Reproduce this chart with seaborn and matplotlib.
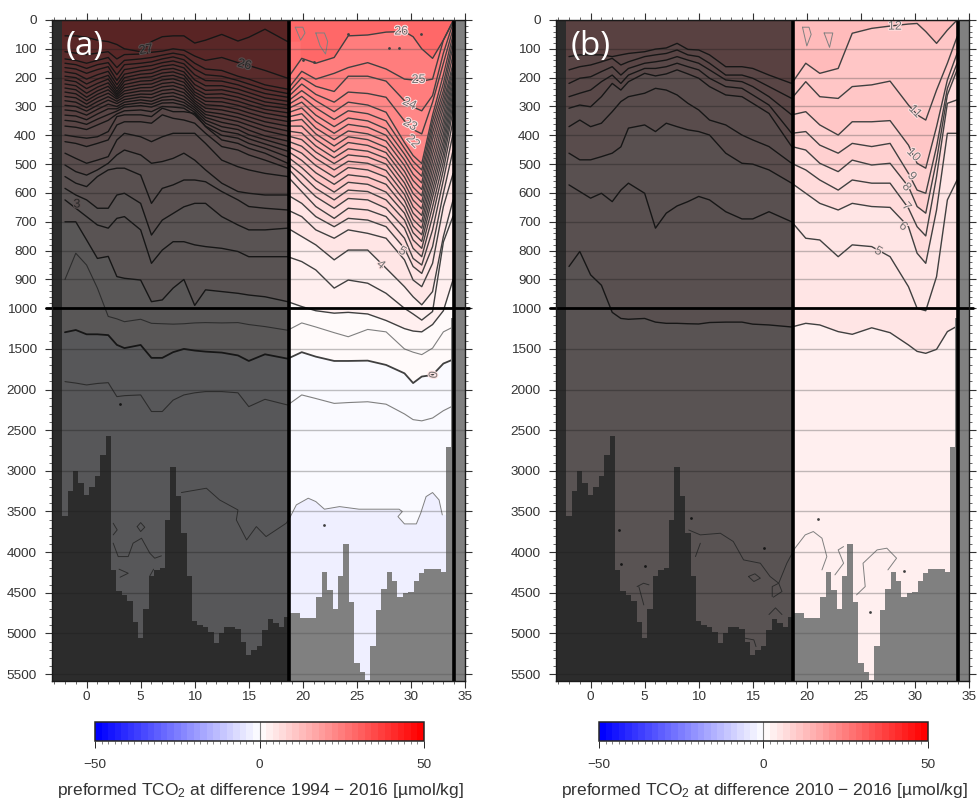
import numpy as np
import seaborn as sns
import matplotlib.pyplot as plt
import matplotlib.patheffects as pe
from matplotlib.colors import Normalize
from matplotlib.cm import ScalarMappable
from matplotlib.ticker import FixedLocator, NullFormatter

sns.set_theme(style="ticks")
plt.rcParams["font.family"] = ["Liberation Sans", "DejaVu Sans"]
plt.rcParams["mathtext.default"] = "regular"

# seccion: estaciones y batimetria
x_left = [-2, -1, 0, 1, 2, 2.8, 3.5, 5, 6, 7, 8, 9, 10, 11, 12.5, 14, 15, 16.5, 18.6]
x_right = [19.9, 21.2, 22.9, 24.2, 26, 27.7, 29.4, 30.2, 31, 32, 33, 33.9]
x_full = x_left + x_right

bathy = [3560, 3250, 3000, 3150, 3300, 3200, 3060, 2810, 2570, 4220, 4480, 4530, 4600, 4860, 5060,
         4700, 4290, 4220, 4190, 3600, 2950, 3310, 3760, 4290, 4850, 4900, 4920, 4980, 5120, 4990,
         4920, 4920, 4950, 5100, 5260, 5210, 5150, 4960, 4820, 4870, 4920, 4800, 4750, 4750, 4810,
         4810, 4810, 4550, 4240, 4470, 4700, 4300, 3900, 4610, 5370, 5470, 5570, 5160, 4710, 4460,
         4240, 4360, 4550, 4500, 4490, 4360, 4260, 4210, 4210, 4210, 4250, 2710, 1120]

# panel (a): profundidad de cada isolinea
a_27 = [55, 55, 60, 70, 75, 85, 100, 110, 75, 58, 55, 55, 80, 70, 50, 73, 60, 32, 75]
a_26 = [110, 115, 120, 115, 110, 135, 120, 118, 112, 108, 100, 105, 125, 140, 130, 148, 158, 175, 202,
        133, 150, 130, 55, 52, 42, 40, 58, 100, 133, 70, 5]
a_25 = [135, 140, 150, 140, 130, 165, 140, 135, 130, 122, 115, 122, 150, 170, 175, 195, 205, 225, 240,
        178, 205, 185, 165, 148, 170, 205, 208, 212, 205, 70, 2]
a_24 = [150, 155, 168, 155, 148, 190, 155, 150, 145, 135, 128, 138, 170, 190, 195, 210, 222, 240, 255,
        200, 230, 248, 195, 195, 212, 280, 302, 315, 262, 115, 10]
a_23 = [165, 170, 185, 172, 162, 210, 172, 163, 158, 148, 142, 152, 190, 210, 212, 225, 238, 255, 268,
        222, 258, 285, 250, 255, 268, 350, 380, 395, 285, 150, 30]
a_22 = [180, 186, 205, 190, 178, 225, 188, 176, 172, 160, 155, 166, 208, 228, 228, 240, 252, 270, 282,
        245, 280, 318, 285, 295, 320, 425, 470, 498, 330, 190, 50]
a_21 = [195, 200, 222, 205, 192, 238, 200, 188, 185, 172, 168, 180, 224, 244, 242, 254, 266, 284, 295,
        265, 305, 345, 315, 325, 350, 445, 490, 520, 350, 220, 70]
a_20 = [208, 214, 238, 220, 205, 248, 212, 200, 197, 184, 180, 192, 238, 258, 256, 268, 280, 297, 308,
        285, 330, 370, 340, 350, 378, 465, 512, 542, 370, 245, 90]
a_19 = [222, 228, 254, 233, 218, 256, 224, 212, 210, 196, 192, 204, 250, 270, 270, 282, 294, 310, 322,
        305, 352, 393, 362, 372, 400, 485, 535, 565, 392, 265, 120]
a_18 = [236, 242, 268, 246, 230, 262, 235, 224, 222, 208, 204, 216, 260, 282, 284, 296, 308, 323, 337,
        325, 375, 415, 385, 395, 420, 505, 557, 588, 415, 285, 150]
a_17 = [250, 256, 280, 258, 242, 268, 246, 235, 234, 220, 216, 228, 270, 294, 298, 310, 322, 338, 352,
        345, 395, 437, 405, 415, 442, 525, 580, 610, 440, 305, 165]
a_16 = [265, 270, 292, 270, 254, 274, 256, 246, 246, 232, 228, 240, 280, 306, 312, 324, 336, 353, 368,
        368, 415, 458, 425, 435, 460, 545, 602, 632, 465, 328, 180]
a_15 = [280, 285, 304, 283, 266, 282, 266, 257, 258, 244, 240, 252, 288, 318, 326, 338, 350, 368, 385,
        392, 437, 478, 447, 455, 480, 565, 625, 655, 490, 350, 198]
a_14 = [296, 300, 316, 296, 278, 290, 276, 267, 270, 256, 252, 264, 296, 328, 340, 352, 365, 384, 402,
        415, 458, 498, 468, 475, 500, 585, 648, 678, 515, 372, 215]
a_13 = [312, 316, 330, 310, 292, 300, 285, 277, 282, 268, 264, 276, 304, 338, 355, 366, 382, 402, 420,
        438, 480, 520, 490, 497, 522, 605, 670, 700, 540, 395, 232]
a_12 = [330, 333, 346, 326, 308, 308, 294, 287, 292, 278, 276, 286, 312, 348, 370, 380, 398, 415, 438,
        462, 505, 545, 512, 520, 545, 626, 692, 722, 565, 418, 250]
a_11 = [348, 352, 362, 344, 328, 316, 302, 297, 302, 288, 287, 296, 320, 358, 385, 395, 412, 430, 455,
        487, 530, 570, 537, 545, 570, 648, 715, 745, 590, 440, 270]
a_10 = [368, 372, 380, 364, 348, 326, 315, 312, 318, 300, 302, 306, 330, 368, 400, 410, 428, 445, 475,
        512, 557, 597, 563, 570, 597, 670, 738, 768, 615, 465, 290]
a_9 = [399, 405, 410, 405, 387, 335, 329, 329, 335, 306, 318, 318, 324, 370, 416, 428, 445, 462, 497,
       537, 584, 624, 590, 595, 624, 694, 763, 792, 647, 491, 312]
a_8 = [422, 428, 439, 428, 416, 364, 353, 353, 358, 329, 341, 347, 358, 393, 439, 451, 468, 486, 514,
       566, 613, 653, 619, 624, 653, 722, 792, 821, 682, 520, 347]
a_7 = [462, 480, 497, 486, 474, 416, 393, 405, 422, 405, 393, 393, 393, 428, 486, 509, 520, 532, 543,
       595, 647, 688, 653, 659, 682, 757, 827, 850, 728, 555, 393]
a_6 = [503, 526, 538, 520, 497, 468, 451, 468, 497, 491, 480, 462, 486, 520, 566, 595, 601, 607, 607,
       636, 682, 717, 688, 694, 717, 792, 855, 879, 786, 601, 451]
a_5 = [543, 566, 578, 543, 520, 514, 514, 538, 636, 584, 572, 555, 555, 561, 595, 624, 647, 653, 659,
       682, 728, 757, 728, 740, 757, 832, 902, 925, 844, 647, 532]
a_4 = [584, 607, 624, 653, 653, 607, 601, 636, 746, 694, 671, 648, 636, 636, 682, 711, 728, 728, 722,
       751, 780, 832, 798, 798, 861, 925, 960, 988, 942, 751, 624]
a_3 = [624, 653, 682, 711, 722, 688, 682, 728, 844, 798, 769, 769, 780, 786, 792, 803, 821, 821, 821,
       838, 867, 930, 902, 913, 948, 1000, 1070, 1145, 1040, 770, 680]
a_2 = [700, 700, 763, 827, 820, 890, 896, 902, 977, 971, 930, 900, 990, 936, 942, 948, 954, 960, 977,
       994, 1030, 1060, 1050, 1070, 1150, 1250, 1280, 1290, 1200, 1030, 900]
a_1 = [900, 809, 850, 930, 1100, 1130, 1165, 1135, 1185, 1190, 1195, 1190, 1180, 1176, 1180, 1176, 1200, 1225, 1270,
       1180, 1230, 1300, 1350, 1260, 1290, 1500, 1540, 1570, 1490, 1290, 1230]
a_0 = [1295, 1267, 1320, 1320, 1330, 1450, 1490, 1451, 1610, 1610, 1540, 1500, 1520, 1533, 1545, 1580, 1648, 1566, 1620,
       1540, 1595, 1648, 1648, 1644, 1697, 1800, 1920, 1840, 1820, 1680, 1630]
a_m1 = [1902, 1920, 1943, 1925, 1915, 2087, 2075, 2066, 2270, 2270, 2130, 2066, 2040, 2025, 2025, 2040, 2210, 2120, 2190,
        2066, 2110, 2170, 2160, 2150, 2180, 2300, 2370, 2385, 2350, 2260, 2200]

# tramos de la isolinea -2 en (a)
a_m2_x = [8.77, 11.08, 12.3, 14, 13.85, 14.8, 15.7, 16.6, 18.46, 18.77, 19.4, 20.5, 21.2, 22, 23.4, 25.2,
          28.9, 29.2, 28.8, 29.4, 30.5, 30.9, 31.4, 32, 32.6, 32.9]
a_m2_d = [3267, 3214, 3358, 3481, 3604, 3850, 3686, 3809, 3645, 3583, 3419, 3337, 3378, 3472, 3440, 3472,
          3472, 3501, 3563, 3653, 3653, 3522, 3317, 3267, 3358, 3542]
a_small = [([2.46, 2.83, 2.46], [3645, 3727, 3788]),
           ([4.68, 5.0, 5.38, 5.0, 4.68], [3686, 3637, 3694, 3747, 3686]),
           ([2.46, 2.92, 3.85, 4.3, 5.08, 5.85, 6.3, 6.92], [3890, 4055, 4055, 3890, 3829, 4014, 4075, 4046]),
           ([3, 3.85, 3.1], [4210, 4260, 4309]),
           ([5.85, 6.2], [4293, 4210]),
           ([19.3, 20.0, 20.2, 19.8, 19.3], [25, 25, 45, 70, 25]),
           ([21.2, 22.0, 22.3, 22.1, 21.6, 21.2], [45, 45, 75, 118, 90, 45])]
a_dots_x = [3.1, 22.0, 20.0, 21.0, 28.0, 28.9, 24.2, 30.9]
a_dots_d = [2175, 3670, 140, 145, 98, 98, 50, 50]

# panel (b)
b_12 = [127, 121, 121, 121, 127, 121, 116, 110, 101, 97, 81, 102, 104, 121, 162, 162, 168, 191, 220,
        150, 185, 168, 46, 29, 21, 14, 12, 40, 81, 35, 0]
b_11 = [173, 162, 156, 145, 133, 156, 145, 127, 121, 116, 104, 121, 127, 150, 191, 191, 202, 231, 272,
        214, 266, 272, 231, 225, 212, 295, 329, 347, 243, 150, 58]
b_10 = [220, 202, 197, 179, 162, 191, 168, 150, 145, 139, 127, 139, 150, 173, 208, 214, 231, 266, 329,
        318, 364, 399, 353, 353, 349, 434, 497, 514, 370, 208, 116]
b_9 = [266, 254, 243, 214, 191, 220, 191, 168, 168, 162, 150, 162, 173, 202, 231, 237, 260, 295, 393,
       387, 434, 462, 428, 439, 428, 532, 590, 601, 439, 237, 150]
b_8 = [306, 295, 301, 266, 220, 243, 214, 185, 194, 187, 173, 187, 202, 231, 260, 266, 289, 324, 439,
       451, 497, 526, 486, 503, 497, 578, 647, 670, 486, 260, 173]
b_7 = [370, 347, 370, 358, 318, 283, 266, 254, 237, 243, 260, 289, 312, 347, 364, 399, 416, 439, 497,
       520, 555, 590, 555, 566, 566, 653, 717, 749, 543, 289, 277]
b_6 = [462, 485, 485, 474, 462, 440, 375, 364, 387, 358, 370, 381, 387, 399, 462, 497, 500, 520, 566,
       601, 636, 659, 636, 647, 650, 717, 809, 844, 659, 393, 393]
b_5 = [572, 595, 618, 601, 630, 590, 566, 601, 722, 670, 645, 630, 612, 624, 665, 690, 690, 665, 700,
       757, 763, 821, 780, 786, 821, 925, 1000, 1030, 890, 624, 555]
b_4 = [855, 803, 884, 920, 1050, 1125, 1135, 1125, 1170, 1185, 1185, 1190, 1193, 1175, 1170, 1170, 1195, 1205, 1230,
       1185, 1205, 1287, 1320, 1240, 1300, 1451, 1530, 1554, 1505, 1287, 1220]

b_small = [([9.08, 10.15, 12, 13.2, 14.15, 15.7, 16.6, 17.4, 18.15, 18.9, 19.85, 20.6, 21.4, 21.85, 21.4],
            [3728, 3788, 3768, 3870, 4096, 4137, 4300, 4383, 4137, 3952, 3788, 3747, 3829, 4055, 4219]),
           ([22.6, 23.4, 22.9, 23.4], [4280, 4137, 3973, 3932]),
           ([24.6, 25.4, 25.2, 26.5, 27.4, 28.3, 27.5], [4526, 4424, 4137, 3973, 3952, 4075, 4219]),
           ([14.6, 15.2, 15.7, 15.1, 14.6], [4300, 4267, 4321, 4362, 4300]),
           ([16.8, 16.8, 17.4, 17.7, 16.9], [4547, 4424, 4383, 4485, 4555]),
           ([16.5, 17.1, 17.7], [4768, 4686, 4768]),
           ([4.3, 4.9, 5.4], [4424, 4383, 4403]),
           ([4.46, 4.92], [4424, 4650]),
           ([9.7, 10.15], [4055, 3891]),
           ([14.3, 15.1, 15.3], [5060, 5080, 5163]),
           ([19.6, 20.2, 20.4, 20.0, 19.6], [25, 25, 50, 90, 25]),
           ([21.6, 22.4, 22.1, 21.6], [45, 45, 95, 45])]
b_dots_x = [21.0, 16.0, 5.0, 25.8, 29.0, 9.3, 2.6, 2.8]
b_dots_d = [3590, 3950, 4170, 4740, 4230, 3580, 3730, 4150]

# contornos con el valor de la banda que queda debajo
a_contours = [(27, a_27, 26.5), (26, a_26, 25.5), (25, a_25, 24.5), (24, a_24, 23.5), (23, a_23, 22.5),
              (22, a_22, 21.5), (21, a_21, 20.5), (20, a_20, 19.5), (19, a_19, 18.5), (18, a_18, 17.5),
              (17, a_17, 16.5), (16, a_16, 15.5), (15, a_15, 14.5), (14, a_14, 13.5), (13, a_13, 12.5),
              (12, a_12, 11.5), (11, a_11, 10.5), (10, a_10, 9.5), (9, a_9, 8.5), (8, a_8, 7.5),
              (7, a_7, 6.5), (6, a_6, 5.5), (5, a_5, 4.5), (4, a_4, 3.5), (3, a_3, 2.5),
              (2, a_2, 1.5), (1, a_1, 0.5), (0, a_0, -0.5), (-1, a_m1, -1.5)]
b_contours = [(12, b_12, 11.5), (11, b_11, 10.5), (10, b_10, 9.5), (9, b_9, 8.5), (8, b_8, 7.5),
              (7, b_7, 6.5), (6, b_6, 5.5), (5, b_5, 5), (4, b_4, 3)]

a_labels = [("27", 5.5, 104, 10), ("26", 14.6, 156, -15), ("3", -0.9, 640, 0), ("26", 29.1, 40, 0),
            ("25", 30.7, 208, 0), ("24", 29.85, 291, -25), ("23", 29.9, 364, -30), ("22", 30.15, 422, -45),
            ("5", 29.2, 803, -30), ("4", 27.2, 850, -40), ("0", 32.15, 1820, 80)]
b_labels = [("12", 28.15, 23, 0), ("11", 30, 318, -45), ("10", 29.85, 468, -45), ("9", 29.7, 543, -50),
            ("8", 29.2, 580, -50), ("7", 29.2, 648, -50), ("6", 28.9, 717, -40), ("5", 26.6, 803, -30)]

y_major = list(range(0, 1000, 100)) + list(range(1000, 6000, 500))
y_minor = list(range(0, 1000, 20)) + list(range(1000, 5600, 100))
x_major = list(range(0, 40, 5))
x_minor = list(range(-3, 36))

X_MIN, X_MAX, Y_MAX = -3.2, 35, 5586
cmap = sns.color_palette("bwr", as_cmap=True).resampled(50)
norm = Normalize(-50, 50)


def fwd(y):
    y = np.asarray(y, dtype=float)
    return np.where(y <= 1000, y, 1000 + (y - 1000) * 0.2819)


def inv(y):
    y = np.asarray(y, dtype=float)
    return np.where(y <= 1000, y, 1000 + (y - 1000) / 0.2819)


def px_rect(left, top, right, bottom):
    return [left / 978, 1 - bottom / 802, (right - left) / 978, (bottom - top) / 802]


def draw_line(ax, xs, ds, color="0.25", lw=1.0):
    sns.lineplot(x=xs, y=ds, sort=False, estimator=None, errorbar=None, color=color,
                 linewidth=lw, legend=False, ax=ax, zorder=3)


def draw_panel(ax, contours, small, dots_x, dots_d, labels, top_value, extra_fill=None):
    ax.set_yscale("function", functions=(fwd, inv))
    ax.axvspan(X_MIN, X_MAX, color=cmap(norm(top_value)), lw=0, zorder=0)

    # primero las bandas de color, de arriba abajo
    for level, depth, band in contours:
        xs = x_left if len(depth) == len(x_left) else x_full
        poly_x = [xs[0] - 1] + xs + [xs[-1] + 1.2, xs[-1] + 1.2, xs[0] - 1]
        poly_y = [depth[0]] + depth + [depth[-1], Y_MAX, Y_MAX]
        ax.fill(poly_x, poly_y, color=cmap(norm(band)), lw=0, zorder=1)
    if extra_fill is not None:
        fx, fd, band = extra_fill
        ax.fill(fx + [36, 36, fx[0]], fd + [fd[-1], Y_MAX, Y_MAX], color=cmap(norm(band)), lw=0, zorder=1)

    for level, depth, band in contours:
        xs = x_left if len(depth) == len(x_left) else x_full
        if level == 0:
            draw_line(ax, xs, depth, "0.25", 1.3)
        elif level in (1, -1):
            draw_line(ax, xs, depth, "0.5", 0.8)
        else:
            draw_line(ax, xs, depth, "0.25", 1.0)
    for sx, sd in small:
        draw_line(ax, sx, sd, "0.5", 0.7)
    sns.scatterplot(x=dots_x, y=dots_d, color="0.25", s=4, linewidth=0, legend=False, ax=ax, zorder=3)

    for txt, tx, ty, rot in labels:
        ax.text(tx, ty, txt, fontsize=9, color="0.45", rotation=rot, ha="center", va="center", zorder=4,
                path_effects=[pe.withStroke(linewidth=1.5, foreground=(1, 0.88, 0.88))])

    # batimetria
    edges = -2.25 + 0.5 * np.arange(len(bathy) + 1)
    ax.fill_between(edges, bathy + [bathy[-1]], Y_MAX, step="post", color="0.5", lw=0, zorder=5)
    ax.axvspan(X_MIN, -2.25, color="0.5", lw=0, zorder=5)
    ax.axvspan(34, X_MAX, color="0.5", lw=0, zorder=5)

    # lineas horizontales de rejilla y sombra de la parte izquierda
    for d in y_major:
        ax.axhline(d, color="0.3", alpha=0.35, lw=1, zorder=6)
    ax.axvspan(X_MIN, 18.7, color="black", alpha=0.65, lw=0, zorder=7)
    ax.axvline(18.7, color="black", lw=2.6, zorder=8)
    ax.axvline(34, color="black", lw=2.6, zorder=8)
    ax.axhline(1000, xmin=-0.015, xmax=1.01, color="black", lw=2, zorder=8, clip_on=False)

    ax.set_xlim(X_MIN, X_MAX)
    ax.set_ylim(Y_MAX, 0)
    ax.xaxis.set_major_locator(FixedLocator(x_major))
    ax.xaxis.set_minor_locator(FixedLocator(x_minor))
    ax.yaxis.set_major_locator(FixedLocator(y_major))
    ax.yaxis.set_minor_locator(FixedLocator(y_minor))
    ax.yaxis.set_minor_formatter(NullFormatter())
    ax.set_yticklabels([str(d) for d in y_major])
    ax.tick_params(which="major", length=5, width=0.8, top=True, right=True, color="0.2", labelsize=9.7,
                   labelcolor="0.2")
    ax.tick_params(which="minor", length=2.5, width=0.6, top=True, right=True, color="0.3")
    ax.tick_params(axis="y", which="major", pad=6)
    ax.tick_params(axis="x", which="major", pad=2)
    ax.set_xlabel("")
    ax.set_ylabel("")
    for sp in ax.spines.values():
        sp.set_linewidth(1)
        sp.set_color("0.1")
        sp.set_zorder(9)


def draw_colorbar(fig, left, caption):
    cax = fig.add_axes(px_rect(left, 722, left + 329, 741))
    sm = ScalarMappable(norm=norm, cmap=cmap)
    cb = fig.colorbar(sm, cax=cax, orientation="horizontal")
    cb.outline.set_linewidth(1.1)
    cb.set_ticks([-50, 0, 50], labels=["\u221250", "0", "50"])
    cb.set_ticks(list(range(-50, 51, 2)), minor=True)
    cax.tick_params(which="major", length=5, width=0.7, labelsize=9.7, pad=8, labelcolor="0.2")
    cax.tick_params(which="minor", length=2.5, width=0.4)
    cax.axvline(0, color="0.5", lw=0.8)
    fig.text((left + 165) / 978, 1 - 791 / 802, caption, ha="center", va="center", fontsize=12.5, color="0.2")


fig = plt.figure(figsize=(9.78, 8.02), dpi=100)

ax_a = fig.add_axes(px_rect(52, 20, 465, 681))
draw_panel(ax_a, a_contours, a_small + [(a_m2_x, a_m2_d)], a_dots_x, a_dots_d, a_labels, 28.5,
           extra_fill=(a_m2_x[9:], a_m2_d[9:], -2.5))

ax_b = fig.add_axes(px_rect(556, 20, 969, 681))
draw_panel(ax_b, b_contours, b_small, b_dots_x, b_dots_d, b_labels, 13.5)

draw_colorbar(fig, 95, "preformed TCO$_2$ at difference 1994 \u2212 2016 [\u00b5mol/kg]")
draw_colorbar(fig, 599, "preformed TCO$_2$ at difference 2010 \u2212 2016 [\u00b5mol/kg]")

fig.text(66 / 978, 1 - 46 / 802, "(a)", color="white", fontsize=24, family="Open Sans", ha="left", va="center")
fig.text(571 / 978, 1 - 46 / 802, "(b)", color="white", fontsize=24, family="Open Sans", ha="left", va="center")

fig.savefig("out.png", dpi=100)
